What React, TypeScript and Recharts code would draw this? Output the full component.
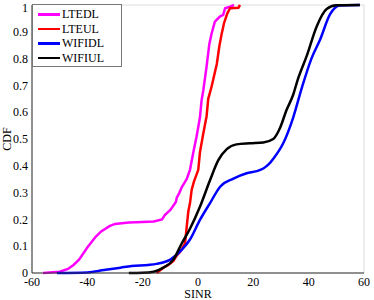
import { LineChart, Line, XAxis, YAxis, CartesianGrid, Legend, Label } from "recharts";

// SINR (dB) vs CDF
const lteDL = [
  { x: -56, y: 0 }, { x: -50, y: 0.005 }, { x: -47, y: 0.015 }, { x: -45, y: 0.03 },
  { x: -43, y: 0.05 }, { x: -40, y: 0.095 }, { x: -37, y: 0.135 }, { x: -35, y: 0.155 },
  { x: -32, y: 0.175 }, { x: -30, y: 0.183 }, { x: -25, y: 0.188 }, { x: -20, y: 0.19 },
  { x: -16, y: 0.192 }, { x: -13, y: 0.2 }, { x: -12, y: 0.216 }, { x: -10, y: 0.235 },
  { x: -9, y: 0.25 }, { x: -8, y: 0.265 }, { x: -7.7, y: 0.28 }, { x: -6.7, y: 0.3 },
  { x: -5.9, y: 0.32 }, { x: -4.7, y: 0.34 }, { x: -4.1, y: 0.35 }, { x: -2.9, y: 0.385 },
  { x: -1.7, y: 0.45 }, { x: -0.5, y: 0.51 }, { x: 0.7, y: 0.58 }, { x: 1.3, y: 0.645 },
  { x: 1.9, y: 0.68 }, { x: 3.1, y: 0.77 }, { x: 4.1, y: 0.855 }, { x: 4.9, y: 0.893 },
  { x: 6.1, y: 0.938 }, { x: 7.9, y: 0.957 }, { x: 9.1, y: 0.963 }, { x: 9.8, y: 0.988 },
  { x: 11.6, y: 0.994 }, { x: 13, y: 1 },
];

const lteUL = [
  { x: -15, y: 0 }, { x: -12.5, y: 0.02 }, { x: -10.7, y: 0.03 }, { x: -8.9, y: 0.045 },
  { x: -7.7, y: 0.065 }, { x: -6.5, y: 0.078 }, { x: -5.3, y: 0.1 }, { x: -4.7, y: 0.11 },
  { x: -4.1, y: 0.17 }, { x: -3.5, y: 0.23 }, { x: -2.9, y: 0.26 }, { x: -2.3, y: 0.31 },
  { x: -1.5, y: 0.34 }, { x: 0.1, y: 0.385 }, { x: 0.7, y: 0.45 }, { x: 1.9, y: 0.52 },
  { x: 3.1, y: 0.585 }, { x: 3.7, y: 0.65 }, { x: 4.9, y: 0.695 }, { x: 6.8, y: 0.78 },
  { x: 7.7, y: 0.845 }, { x: 8.6, y: 0.895 }, { x: 9.4, y: 0.932 }, { x: 10.6, y: 0.969 },
  { x: 11.6, y: 0.988 }, { x: 14.6, y: 0.99 }, { x: 15.2, y: 1 },
];

const wifiDL = [
  { x: -51, y: 0 }, { x: -40, y: 0.002 }, { x: -34, y: 0.011 }, { x: -28, y: 0.02 },
  { x: -24, y: 0.026 }, { x: -18, y: 0.03 }, { x: -15, y: 0.034 }, { x: -10, y: 0.05 },
  { x: -5.9, y: 0.086 }, { x: -2.9, y: 0.125 }, { x: 0.7, y: 0.198 }, { x: 4.3, y: 0.26 },
  { x: 8, y: 0.322 }, { x: 12.8, y: 0.352 }, { x: 17.6, y: 0.372 }, { x: 21.2, y: 0.38 },
  { x: 23.6, y: 0.39 }, { x: 25.5, y: 0.405 }, { x: 27.5, y: 0.43 }, { x: 30.8, y: 0.484 },
  { x: 34.4, y: 0.58 }, { x: 37.5, y: 0.69 }, { x: 41, y: 0.8 }, { x: 44.1, y: 0.87 },
  { x: 47.7, y: 0.965 }, { x: 51.3, y: 0.998 }, { x: 58.5, y: 1 },
];

const wifiUL = [
  { x: -25, y: 0 }, { x: -20, y: 0.001 }, { x: -16, y: 0.005 }, { x: -12.5, y: 0.02 },
  { x: -8.9, y: 0.05 }, { x: -5.9, y: 0.11 }, { x: -2.9, y: 0.165 }, { x: 0.7, y: 0.247 },
  { x: 4.3, y: 0.345 }, { x: 7.3, y: 0.42 }, { x: 10.4, y: 0.462 }, { x: 13.9, y: 0.48 },
  { x: 18.8, y: 0.484 }, { x: 23.6, y: 0.487 }, { x: 27.2, y: 0.5 }, { x: 29.6, y: 0.54 },
  { x: 32, y: 0.608 }, { x: 34.4, y: 0.665 }, { x: 36, y: 0.72 }, { x: 39.3, y: 0.81 },
  { x: 42.9, y: 0.92 }, { x: 46.5, y: 0.985 }, { x: 50, y: 0.999 }, { x: 58.5, y: 1 },
];

const xTicks = [-60, -40, -20, 0, 20, 40, 60];
const yTicks = [0, 0.1, 0.2, 0.3, 0.4, 0.5, 0.6, 0.7, 0.8, 0.9, 1];

const series = [
  { name: "LTEDL", data: lteDL, color: "#ff00ff", type: "linear" },
  { name: "LTEUL", data: lteUL, color: "#ff0000", type: "linear" },
  { name: "WIFIDL", data: wifiDL, color: "#0000ff", type: "monotone" },
  { name: "WIFIUL", data: wifiUL, color: "#000000", type: "monotone" },
];

const font = "Liberation Serif, Times New Roman, serif";
const tick = { fontSize: 12, fill: "#000", fontFamily: font };

const LegendBox = () => (
  <div style={{
    border: "1px solid #777", background: "#fff", padding: "2px 4px 1px 5px",
    fontFamily: font, fontSize: 12, lineHeight: "14.5px",
  }}>
    {series.map(s => (
      <div key={s.name} style={{ display: "flex", alignItems: "center" }}>
        <span style={{ display: "inline-block", width: 22, height: 2.5, background: s.color, marginRight: 2 }} />
        <span>{s.name}</span>
      </div>
    ))}
  </div>
);

export default function App() {
  return (
    <div style={{ position: "absolute", left: 0, top: 0, background: "#fff" }}>
      <LineChart width={374} height={300} margin={{ top: 5, right: 10, left: 0, bottom: 0 }}>
        <CartesianGrid stroke="#dcdcdc" strokeWidth={1} />
        <XAxis
          xAxisId="b" type="number" dataKey="x" domain={[-60, 60]} ticks={xTicks}
          allowDataOverflow height={27} tick={tick} tickSize={3} tickMargin={1}
          stroke="#333" tickLine={false}
        >
          <Label content={({ viewBox }: any) => (
            <text x={viewBox.x + viewBox.width / 2} y={298} textAnchor="middle"
              fontSize={12} fontFamily={font} fill="#000">SINR</text>
          )} />
        </XAxis>
        <XAxis xAxisId="t" orientation="top" type="number" domain={[-60, 60]} ticks={xTicks}
          height={0} tick={false} tickLine={false} stroke="#555" />
        <YAxis
          yAxisId="l" type="number" domain={[0, 1]} ticks={yTicks} width={32}
          tick={tick} tickSize={3} tickMargin={1} stroke="#333" tickLine={false}
          tickFormatter={(v: number) => (v === 0 || v === 1 ? String(v) : v.toFixed(1))}
        >
          <Label content={({ viewBox }: any) => {
            const cy = viewBox.y + viewBox.height / 2;
            return (
              <text x={11} y={cy} textAnchor="middle" transform={`rotate(-90 11 ${cy})`}
                fontSize={12} fontFamily={font} fill="#000">CDF</text>
            );
          }} />
        </YAxis>
        <YAxis yAxisId="r" orientation="right" type="number" domain={[0, 1]} ticks={yTicks}
          width={0} tick={false} tickLine={false} stroke="#555" />
        <Legend
          layout="vertical" align="center" verticalAlign="middle"
          wrapperStyle={{ left: 32, top: 4, width: 90 }}
          content={() => <LegendBox />}
        />
        {series.map(s => (
          <Line
            key={s.name} xAxisId="b" yAxisId="l" data={s.data} dataKey="y" name={s.name}
            type={s.type as any} stroke={s.color} strokeWidth={2.5} dot={false}
            isAnimationActive={false}
          />
        ))}
      </LineChart>
    </div>
  );
}
